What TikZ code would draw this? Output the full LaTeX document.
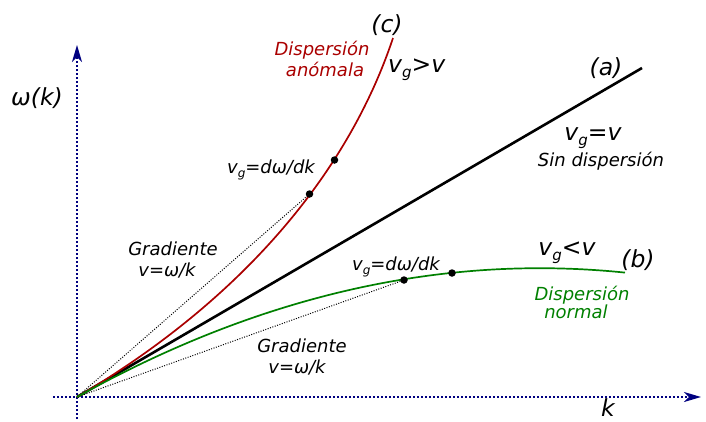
\documentclass[tikz,border=0pt]{standalone}
\usepackage{fontspec}
\setmainfont{DejaVu Sans}
\usetikzlibrary{arrows.meta}
\definecolor{axisblue}{RGB}{0,0,128}
\definecolor{curvered}{RGB}{170,0,0}
\definecolor{curvegreen}{RGB}{0,128,0}
\newcommand{\gsubL}{\raisebox{-5pt}{\fontsize{15}{15}\selectfont g}}
\newcommand{\gsubS}{\raisebox{-4pt}{\fontsize{12}{12}\selectfont g}}
\begin{document}
\begin{tikzpicture}[x=1pt,y=-1pt,
  axis/.style={axisblue, line width=2pt, dash pattern=on 2pt off 2pt,
    -{Stealth[length=17pt,width=10pt,inset=5pt]}},
  big/.style={font=\fontsize{23.5}{25}\selectfont\itshape, inner sep=0pt, anchor=base},
  small/.style={font=\fontsize{18}{20}\selectfont\itshape, inner sep=0pt, anchor=base},
  guide/.style={line width=1pt, dash pattern=on 1pt off 1.5pt},
  dot/.style={circle, fill=black, inner sep=0pt, minimum size=7.5pt},
  curve/.style={line width=1.7pt}]
\useasboundingbox (0,0) rectangle (706,421);

% coordinates
\coordinate (O) at (77,397);
\coordinate (ybot) at (77,419);
\coordinate (ytop) at (77,45);
\coordinate (xl) at (53,397);
\coordinate (xr) at (701,397);
\coordinate (aend) at (642,68);
\coordinate (cend) at (393,38);
\coordinate (bend) at (625,272.6);
\coordinate (r1c) at (309.5,194);
\coordinate (r2c) at (334.5,160);
\coordinate (g1c) at (404,280);
\coordinate (g2c) at (452,273);

% axes
\draw[axis] (ybot) -- (ytop);
\draw[axis] (xl) -- (xr);

% guide lines
\draw[guide] (O) -- (r1c);
\draw[guide] (O) -- (g1c);

% curves
\draw[line width=2.6pt] (O) -- (aend);
\draw[curve, curvered] (O) .. controls (242,300) and (348,173) .. (cend);
\draw[curve, curvegreen] (O) .. controls (259.7,295.3) and (442.3,253.8) .. (bend);

% dots
\node[dot] (r1) at (r1c) {};
\node[dot] (r2) at (r2c) {};
\node[dot] (g1) at (g1c) {};
\node[dot] (g2) at (g2c) {};

% labels
\node[big, anchor=base west] (wk) at (11,105) {ω(k)};
\node[big] (lc) at (387,32) {(c)};
\node[small, curvered] (dr1) at (322,55) {Dispersión};
\node[small, curvered] (dr2) at (325,76) {anómala};
\node[big, anchor=base west] (vgc) at (388,72) {v\gsubL>v};
\node[big] (la) at (606,75) {(a)};
\node[big] (vga) at (593,140) {v\gsubL=v};
\node[small] (sd) at (601,166) {Sin dispersión};
\node[small] (dwr) at (271,173) {v\gsubS=dω/dk};
\node[small] (gr1) at (173,255) {Gradiente};
\node[small] (vk1) at (167,276) {v=ω/k};
\node[small] (dwg) at (396,270) {v\gsubS=dω/dk};
\node[big] (vgb) at (567,255) {v\gsubL<v};
\node[big] (lb) at (638,267) {(b)};
\node[small, curvegreen] (dg1) at (582,300) {Dispersión};
\node[small, curvegreen] (dg2) at (576,318) {normal};
\node[small] (gr2) at (302,352) {Gradiente};
\node[small] (vk2) at (297,373) {v=ω/k};
\node[big] (kl) at (608,416) {k};
\end{tikzpicture}
\end{document}
